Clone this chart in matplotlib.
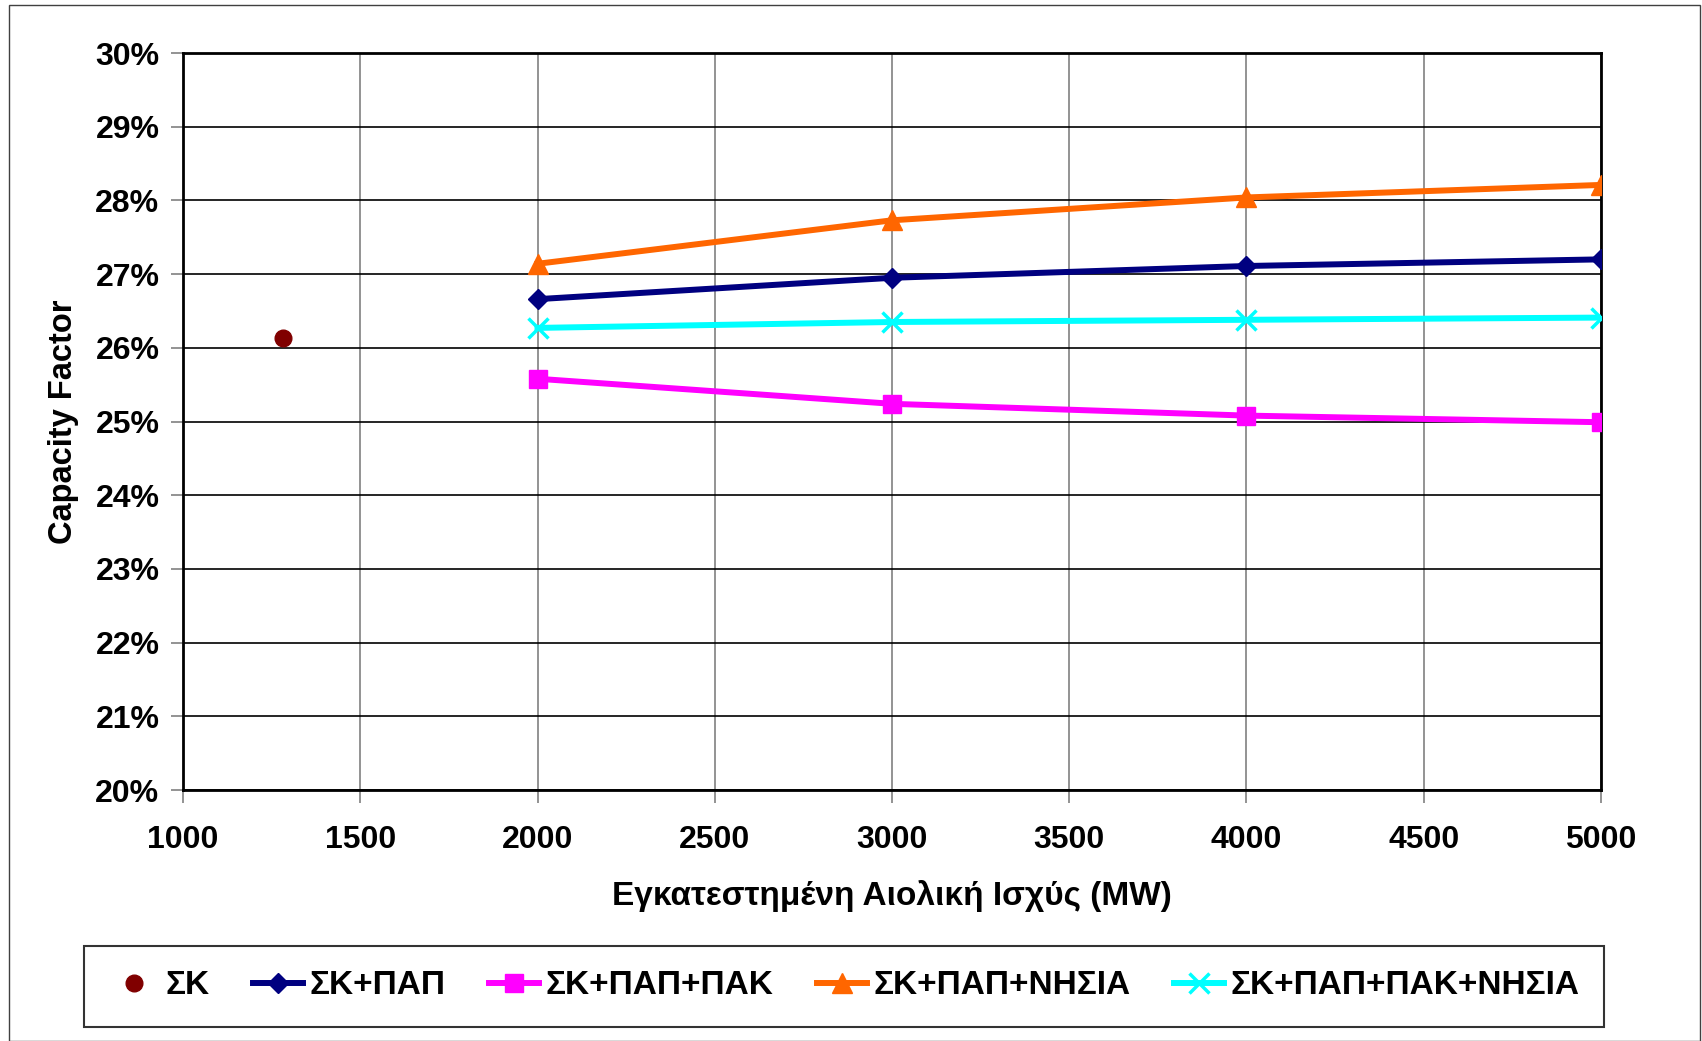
import matplotlib
matplotlib.use("Agg")
import matplotlib.pyplot as plt
from matplotlib.patches import Rectangle
from matplotlib.ticker import FuncFormatter

plt.rcParams['font.family'] = ['Liberation Sans', 'DejaVu Sans']
plt.rcParams['font.weight'] = 'bold'

# data
sk_x = [1283]
sk_y = [26.13]
mw = [2000, 3000, 4000, 5000]
sk_pap = [26.66, 26.95, 27.11, 27.20]
sk_pap_pak = [25.58, 25.24, 25.08, 24.99]
sk_pap_nisia = [27.14, 27.73, 28.04, 28.21]
sk_pap_pak_nisia = [26.27, 26.35, 26.38, 26.41]

labels = ['ΣΚ', 'ΣΚ+ΠΑΠ', 'ΣΚ+ΠΑΠ+ΠΑΚ', 'ΣΚ+ΠΑΠ+ΝΗΣΙΑ', 'ΣΚ+ΠΑΠ+ΠΑΚ+ΝΗΣΙΑ']

W, H = 1702, 1041
fig = plt.figure(figsize=(W / 100, H / 100), dpi=100)
ax = fig.add_axes([183 / W, 1 - 790 / H, (1601 - 183) / W, (790 - 53) / H])

ax.plot(sk_x, sk_y, 'o', color='#800000', ms=12, label=labels[0], zorder=5)
ax.plot(mw, sk_pap, '-D', color='#000080', lw=4.3, ms=10, label=labels[1], zorder=5)
ax.plot(mw, sk_pap_pak, '-s', color='#ff00ff', lw=4.3, ms=13, label=labels[2], zorder=5)
ax.plot(mw, sk_pap_nisia, '-^', color='#ff6600', lw=4.3, ms=14, label=labels[3], zorder=5)
ax.plot(mw, sk_pap_pak_nisia, '-x', color='#00ffff', lw=4.3, ms=14, mew=2.5,
        label=labels[4], zorder=5)

ax.set_xlim(1000, 5000)
ax.set_ylim(20, 30)
ax.set_xticks(range(1000, 5001, 500))
ax.set_yticks(range(20, 31))
ax.yaxis.set_major_formatter(FuncFormatter(lambda v, p: '{:.0f}%'.format(v)))

ax.xaxis.grid(True, color='#808080', lw=1.2)
ax.yaxis.grid(True, color='black', lw=1.2)
ax.set_axisbelow(True)
for s in ax.spines.values():
    s.set_linewidth(2)
    s.set_color('black')

ax.tick_params(axis='both', direction='out', length=9, width=1.2, color='#808080',
               labelsize=23, pad=8)
ax.tick_params(axis='x', pad=16)
for t in ax.get_xticklabels() + ax.get_yticklabels():
    t.set_fontweight('bold')

ax.set_xlabel('Εγκατεστημένη Αιολική Ισχύς (MW)', fontsize=24, fontweight='bold', labelpad=18)
ax.set_ylabel('Capacity Factor', fontsize=23.5, fontweight='bold', labelpad=12)

leg = fig.legend(loc='center', bbox_to_anchor=(844 / W, 1 - 986 / H), ncol=5,
                 frameon=True, fancybox=False, edgecolor='black',
                 handlelength=1.5, handletextpad=0.2, columnspacing=1.3,
                 borderpad=0.75, prop={'weight': 'bold', 'size': 24})
leg.get_frame().set_linewidth(1.5)

fig.patches.append(Rectangle((9 / W, 0), (W - 11) / W, 1 - 5 / H, transform=fig.transFigure,
                             fill=False, edgecolor='#404040', lw=1))

fig.savefig('out.png', dpi=100)
